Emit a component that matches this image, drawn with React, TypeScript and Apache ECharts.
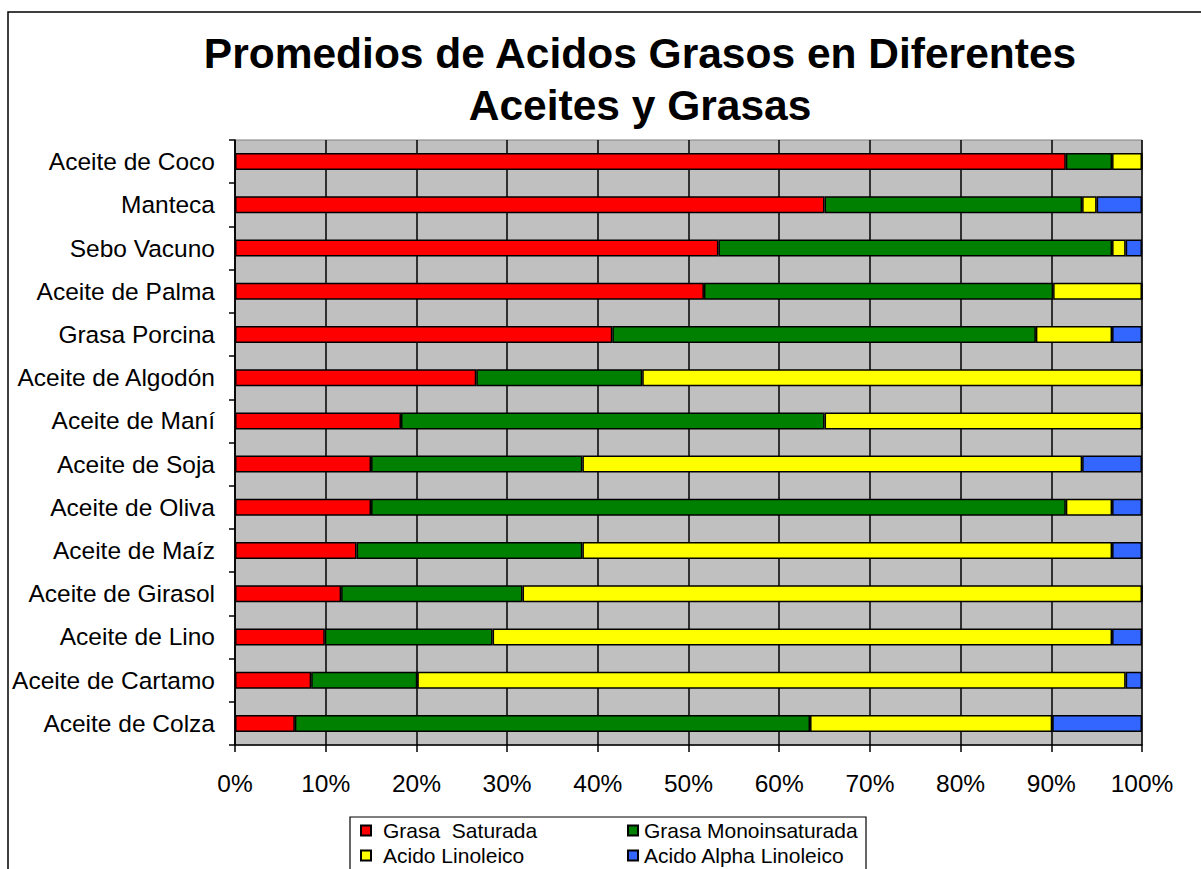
import React, { useEffect, useRef } from "react";
import * as echarts from "echarts";

const categories = [
  "Aceite de Coco",
  "Manteca",
  "Sebo Vacuno",
  "Aceite de Palma",
  "Grasa Porcina",
  "Aceite de Algodón",
  "Aceite de Maní",
  "Aceite de Soja",
  "Aceite de Oliva",
  "Aceite de Maíz",
  "Aceite de Girasol",
  "Aceite de Lino",
  "Aceite de Cartamo",
  "Aceite de Colza",
];

const saturada = [91.6, 65.0, 53.3, 51.7, 41.6, 26.6, 18.3, 15.0, 15.0, 13.4, 11.7, 9.9, 8.4, 6.6];
const monoinsaturada = [5.1, 28.4, 43.4, 38.5, 46.7, 18.3, 46.7, 23.3, 76.6, 24.9, 20.0, 18.5, 11.7, 56.8];
const linoleico = [3.3, 1.6, 1.5, 9.8, 8.4, 55.1, 35.0, 55.1, 5.1, 58.4, 68.3, 68.3, 78.1, 26.7];
const alphaLinoleico = [0, 5.0, 1.8, 0, 3.3, 0, 0, 6.6, 3.3, 3.3, 0, 3.3, 1.8, 9.9];

const seriesNames = ["Grasa  Saturada", "Grasa Monoinsaturada", "Acido Linoleico", "Acido Alpha Linoleico"];
const seriesColors = ["#FF0000", "#008000", "#FFFF00", "#3366FF"];
const seriesData = [saturada, monoinsaturada, linoleico, alphaLinoleico];

const titleLines = ["Promedios de Acidos Grasos en Diferentes", "Aceites y Grasas"];

export default function App() {
  const ref = useRef<HTMLDivElement>(null);
  useEffect(() => {
    if (!ref.current) return;
    const chart = echarts.init(ref.current, undefined, { renderer: "svg" });
    const font = "Liberation Sans, Arial, sans-serif";
    const titleFont = "bold 42.5px Liberation Sans, Arial, sans-serif";
    chart.setOption({
      animation: false,
      backgroundColor: "#ffffff",
      textStyle: { fontFamily: font },
      graphic: [
        {
          type: "rect",
          shape: { x: 8, y: 12, width: 1200, height: 900 },
          style: { fill: "none", stroke: "#000", lineWidth: 1.5 },
          z: 0,
        },
        {
          type: "text",
          x: 640,
          y: 53,
          style: {
            text: titleLines[0],
            font: titleFont,
            fill: "#000",
            textAlign: "center",
            textVerticalAlign: "middle",
          },
        },
        {
          type: "text",
          x: 640,
          y: 105,
          style: {
            text: titleLines[1],
            font: titleFont,
            fill: "#000",
            textAlign: "center",
            textVerticalAlign: "middle",
          },
        },
        {
          type: "rect",
          shape: { x: 350, y: 817, width: 516, height: 80 },
          style: { fill: "#fff", stroke: "#000", lineWidth: 1.2 },
          z: 0,
        },
      ],
      legend: [
        {
          orient: "vertical",
          left: 360,
          top: 820,
          height: 60,
          padding: 0,
          data: [seriesNames[0], seriesNames[2]],
          itemWidth: 10,
          itemHeight: 10,
          itemGap: 4,
          icon: "rect",
          textStyle: { fontSize: 21, lineHeight: 21, color: "#000", fontFamily: font, padding: [0, 0, 0, 7] },
          z: 5,
        },
        {
          orient: "vertical",
          left: 627,
          top: 820,
          height: 60,
          padding: 0,
          data: [seriesNames[1], seriesNames[3]],
          itemWidth: 10,
          itemHeight: 10,
          itemGap: 4,
          icon: "rect",
          textStyle: { fontSize: 21, lineHeight: 21, color: "#000", fontFamily: font, padding: [0, 0, 0, 1] },
          z: 5,
        },
      ],
      grid: {
        left: 235,
        top: 140,
        width: 907,
        height: 605,
        show: true,
        backgroundColor: "#C0C0C0",
        borderColor: "#808080",
        borderWidth: 1,
        containLabel: false,
      },
      xAxis: {
        type: "value",
        min: 0,
        max: 100,
        interval: 10,
        axisLine: { show: true, lineStyle: { color: "#000", width: 1.5 } },
        axisTick: { show: true, length: 7, lineStyle: { color: "#000", width: 1.5 } },
        splitLine: { show: true, lineStyle: { color: "#000", width: 1.5 } },
        axisLabel: { formatter: "{value}%", fontSize: 24.5, color: "#000", margin: 26, fontFamily: font },
      },
      yAxis: {
        type: "category",
        inverse: true,
        data: categories,
        axisLine: { show: true, lineStyle: { color: "#000", width: 1.5 } },
        axisTick: { show: true, length: 6, alignWithLabel: false, lineStyle: { color: "#000", width: 1.5 } },
        splitLine: { show: false },
        axisLabel: { fontSize: 24.5, color: "#000", margin: 20, fontFamily: font },
      },
      series: seriesNames.map((name, i) => ({
        name,
        type: "bar",
        stack: "total",
        data: seriesData[i],
        barWidth: 17,
        itemStyle: { color: seriesColors[i], borderColor: "#000", borderWidth: 1.5 },
      })),
    });
    return () => chart.dispose();
  }, []);
  return (
    <div
      ref={ref}
      style={{ position: "absolute", left: 0, top: 0, width: 1201, height: 869 }}
    />
  );
}
